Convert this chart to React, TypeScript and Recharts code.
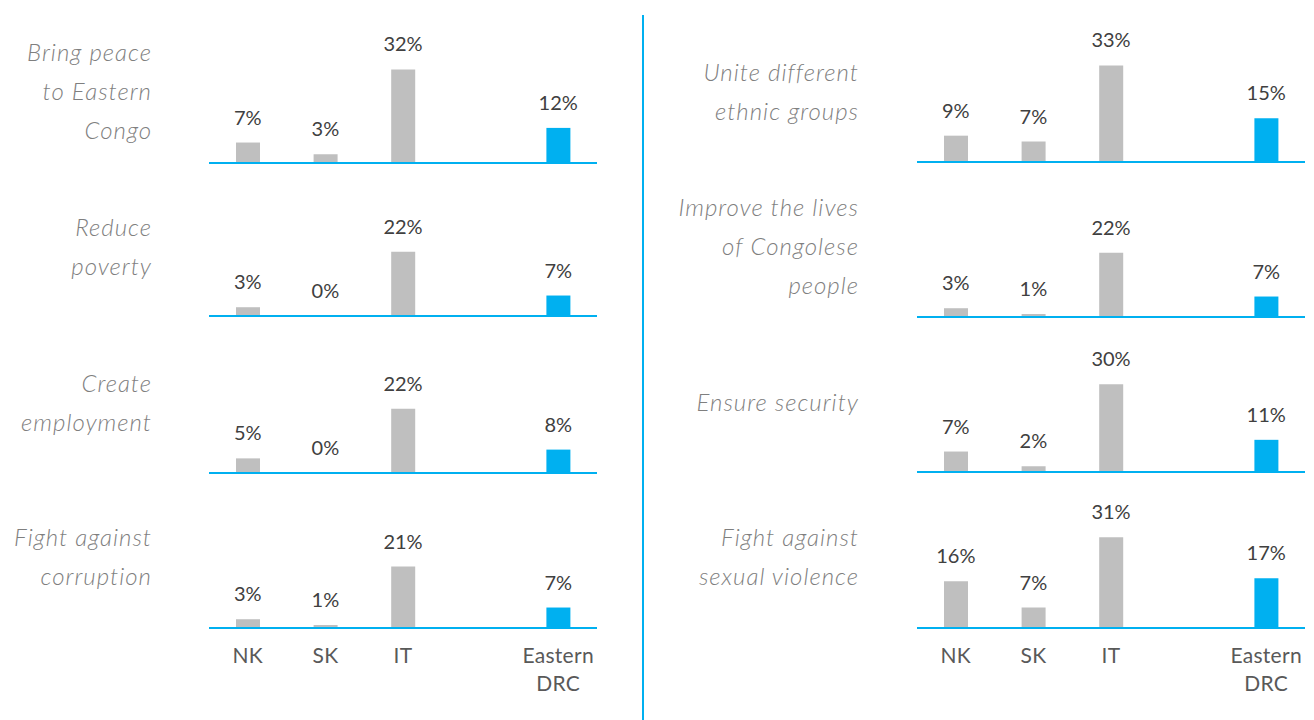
import { ComposedChart, Bar, Line, XAxis, YAxis, LabelList, Cell } from 'recharts'

const CATEGORIES = ['NK', 'SK', 'IT', '', 'Eastern DRC']

const LEFT_TITLES = [
  ['Bring peace', 'to Eastern', 'Congo'],
  ['Reduce', 'poverty'],
  ['Create', 'employment'],
  ['Fight against', 'corruption'],
]
const RIGHT_TITLES = [
  ['Unite different', 'ethnic groups'],
  ['Improve the lives', 'of Congolese', 'people'],
  ['Ensure security'],
  ['Fight against', 'sexual violence'],
]

// values for NK, SK, IT, Eastern DRC
const bringPeace = [7, 3, 32, 12]
const reducePoverty = [3, 0, 22, 7]
const createEmployment = [5, 0, 22, 8]
const fightCorruption = [3, 1, 21, 7]
const uniteGroups = [9, 7, 33, 15]
const improveLives = [3, 1, 22, 7]
const ensureSecurity = [7, 2, 30, 11]
const fightViolence = [16, 7, 31, 17]

const LEFT_VALUES = [bringPeace, reducePoverty, createEmployment, fightCorruption]
const RIGHT_VALUES = [uniteGroups, improveLives, ensureSecurity, fightViolence]

const LEFT_BASELINES = [163, 316, 473, 628]
const RIGHT_BASELINES = [162, 317, 472, 628]

const BLUE = '#00b0f0'
const GRAY = '#bfbfbf'
const FONT = 'Lato, "Open Sans", sans-serif'

const PLOT_H = 117
const TOP_M = 45
const SIDE_M = 20
const PLOT_W = 388

function toRows(values: number[]) {
  const idx = [0, 1, 2, null, 3]
  return CATEGORIES.map((name, i) => ({
    name,
    value: idx[i] === null ? null : values[idx[i] as number],
  }))
}

function CatTick(props: any) {
  const { x, y, payload } = props
  const lines = String(payload.value).split(' ').filter(Boolean)
  return (
    <text x={x} y={y} textAnchor="middle" fill="#595959" fontSize={21} fontFamily={FONT} letterSpacing={0.3}>
      {lines.map((l, i) => (
        <tspan key={i} x={x} dy={i === 0 ? 33 : 28}>{l}</tspan>
      ))}
    </text>
  )
}

function ValueLabel(props: any) {
  const { x, y, value } = props
  if (value === null || value === undefined) return null
  return (
    <text x={x} y={y - 18} textAnchor="middle" fill="#404040" fontSize={20} fontFamily={FONT}>
      {value}%
    </text>
  )
}

function Panel({ values, baseline, plotLeft, bottom }: { values: number[]; baseline: number; plotLeft: number; bottom: boolean }) {
  const rows = toRows(values)
  const axisH = bottom ? 80 : 1
  const height = TOP_M + PLOT_H + axisH + 3
  return (
    <div style={{ position: 'absolute', left: plotLeft - SIDE_M, top: baseline - PLOT_H - TOP_M }}>
      <ComposedChart width={PLOT_W + SIDE_M * 2} height={height} data={rows}
        margin={{ top: TOP_M, right: SIDE_M, left: SIDE_M, bottom: 3 }} barCategoryGap={0}>
        <YAxis hide domain={[0, 40]} />
        <XAxis dataKey="name" axisLine={{ stroke: BLUE, strokeWidth: 2 }} tickLine={false}
          tick={bottom ? <CatTick /> : () => <g />} height={axisH} interval={0} tickSize={0} />
        <Bar dataKey="value" barSize={24} isAnimationActive={false}>
          {rows.map((_, i) => (
            <Cell key={i} fill={i === CATEGORIES.length - 1 ? BLUE : GRAY} />
          ))}
        </Bar>
        <Line dataKey="value" stroke="none" dot={false} activeDot={false} isAnimationActive={false}>
          <LabelList dataKey="value" content={<ValueLabel />} />
        </Line>
      </ComposedChart>
    </div>
  )
}

function Title({ lines, right, firstY }: { lines: string[]; right: number; firstY: number }) {
  return (
    <div style={{
      position: 'absolute', left: right - 300, width: 300, top: firstY - 19.5,
      textAlign: 'right', fontFamily: FONT, fontStyle: 'italic', fontWeight: 300,
      fontSize: 24, lineHeight: '39px', letterSpacing: '1px', color: '#7f7f7f', whiteSpace: 'nowrap',
    }}>
      {lines.map((l, i) => <div key={i}>{l}</div>)}
    </div>
  )
}

const LEFT_TITLE_Y = [51, 226, 382, 536]
const RIGHT_TITLE_Y = [71, 206, 401, 536]

export default function App() {
  return (
    <div style={{ position: 'absolute', left: 0, top: 0, width: 1314, height: 720, background: '#fff', overflow: 'hidden' }}>
      {LEFT_VALUES.map((v, i) => (
        <Panel key={'l' + i} values={v} baseline={LEFT_BASELINES[i]} plotLeft={209} bottom={i === 3} />
      ))}
      {RIGHT_VALUES.map((v, i) => (
        <Panel key={'r' + i} values={v} baseline={RIGHT_BASELINES[i]} plotLeft={917} bottom={i === 3} />
      ))}
      {LEFT_TITLES.map((t, i) => (
        <Title key={'lt' + i} lines={t} right={152} firstY={LEFT_TITLE_Y[i]} />
      ))}
      {RIGHT_TITLES.map((t, i) => (
        <Title key={'rt' + i} lines={t} right={859} firstY={RIGHT_TITLE_Y[i]} />
      ))}
      <div style={{ position: 'absolute', left: 642, top: 15, width: 2, height: 705, background: BLUE }} />
    </div>
  )
}
